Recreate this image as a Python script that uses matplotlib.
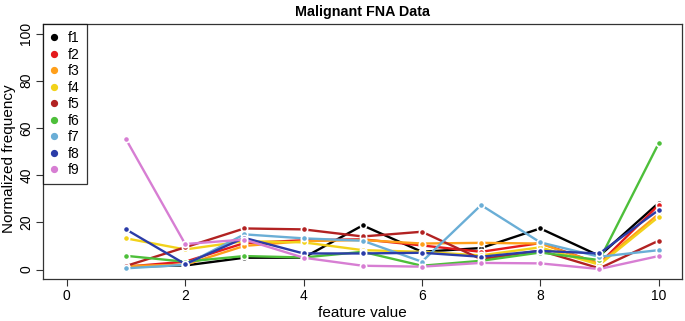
import matplotlib
matplotlib.use("Agg")
import matplotlib.pyplot as plt
from matplotlib.lines import Line2D

plt.rcParams['font.family'] = ['Liberation Sans', 'DejaVu Sans']

feature_values = [1, 2, 3, 4, 5, 6, 7, 8, 9, 10]
f1 = [1.2, 1.7, 5.0, 5.0, 18.7, 7.5, 9.1, 17.4, 5.8, 28.2]
f2 = [1.2, 3.3, 11.2, 12.4, 12.8, 10.2, 7.5, 11.2, 2.5, 27.3]
f3 = [1.5, 2.0, 10.0, 12.0, 12.5, 11.0, 11.3, 11.0, 2.5, 23.5]
f4 = [13.2, 8.5, 12.0, 11.5, 8.2, 7.5, 6.0, 9.4, 2.0, 22.3]
f5 = [1.5, 9.4, 17.4, 17.0, 14.0, 16.0, 4.4, 8.0, 0.5, 12.2]
f6 = [5.8, 3.3, 5.7, 5.1, 7.5, 1.6, 3.7, 7.2, 4.0, 53.4]
f7 = [0.5, 2.0, 14.9, 13.2, 12.2, 3.3, 27.3, 11.5, 5.4, 8.2]
f8 = [17.0, 2.3, 13.4, 6.8, 6.8, 7.1, 5.4, 7.9, 6.8, 25.2]
f9 = [55.2, 10.8, 12.7, 5.0, 1.6, 1.2, 2.8, 2.6, 0.2, 5.7]

series_names = ['f1', 'f2', 'f3', 'f4', 'f5', 'f6', 'f7', 'f8', 'f9']
series = [f1, f2, f3, f4, f5, f6, f7, f8, f9]
colors = ['#000000', '#E41A1C', '#FF9F1A', '#F2D21A', '#B22222',
          '#4DBF3A', '#6AAED6', '#2B3CA8', '#D77ED3']

x_ticks = [0, 2, 4, 6, 8, 10]
y_ticks = [0, 20, 40, 60, 80, 100]

fig = plt.figure(figsize=(6.85, 3.21), dpi=100)
ax = fig.add_axes([0.063, 0.131, 0.933, 0.794])

for name, vals, c in zip(series_names, series, colors):
    ax.plot(feature_values, vals, color=c, lw=1.7, marker='o', ms=4.5,
            markerfacecolor=c, markeredgecolor='white', markeredgewidth=1.2,
            solid_capstyle='butt')

ax.set_xlim(-0.4, 10.4)
ax.set_ylim(-4, 104)
ax.set_xticks(x_ticks)
ax.set_yticks(y_ticks)
ax.set_xticklabels([str(v) for v in x_ticks], fontsize=10)
ax.set_yticklabels([str(v) for v in y_ticks], fontsize=10, rotation=90, va='center')
ax.tick_params(direction='out', length=5, width=0.8, pad=2, colors='#333333',
               labelcolor='black')
for s in ax.spines.values():
    s.set_linewidth(0.9)
    s.set_color('#333333')

ax.set_xlabel('feature value', fontsize=11)
ax.set_ylabel('Normalized frequency', fontsize=11)
ax.yaxis.set_label_coords(-0.054, 0.47)
ax.xaxis.set_label_coords(0.5, -0.135)
ax.xaxis.label.set_va('center')
ax.yaxis.label.set_va('center')
ax.set_title('Malignant FNA Data', fontsize=10.3, fontweight='bold', pad=6)

handles = [Line2D([0], [0], linestyle='none', marker='o', ms=4.2,
                  markerfacecolor=c, markeredgecolor=c) for c in colors]
leg = ax.legend(handles, series_names, loc='upper left', borderaxespad=0,
                frameon=True, fancybox=False, fontsize=10, handlelength=0.6,
                handletextpad=0.7, labelspacing=0.18, borderpad=0.5)
leg.get_frame().set_edgecolor('black')
leg.get_frame().set_linewidth(0.9)

fig.savefig('out.png', dpi=100)
